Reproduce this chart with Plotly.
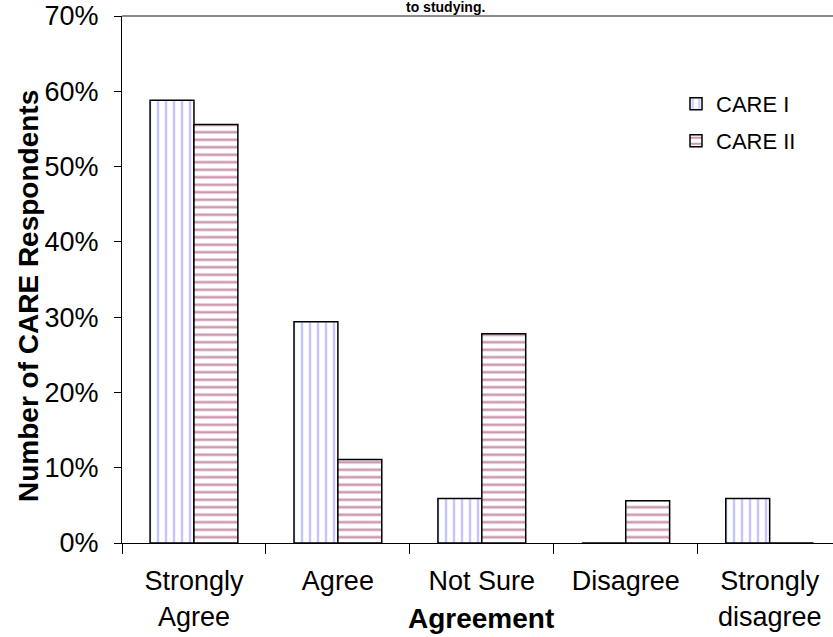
import plotly.graph_objects as go

# Survey responses by agreement level
categories = ["Strongly<br>Agree", "Agree", "Not Sure", "Disagree", "Strongly<br>disagree"]
care_1 = [0.588, 0.294, 0.059, 0.0, 0.059]
care_2 = [0.556, 0.111, 0.278, 0.056, 0.0]
series_names = ["CARE I", "CARE II"]

FONT = "Liberation Sans, Arial, sans-serif"
W, H = 833, 637
L, R, T, B = 122, 0, 16, 94
plot_w = W - L - R
plot_h = H - T - B


def px_x(x):
    return (x - L) / plot_w


def px_y(y):
    return 1 - (y - T) / plot_h


fig = go.Figure()
fig.add_trace(go.Bar(
    x=categories, y=care_1, name=series_names[0], legend="legend",
    marker=dict(
        color="white",
        line=dict(color="black", width=1.5),
        pattern=dict(shape="|", fgcolor="#8c8cff", bgcolor="white", size=8, solidity=0.3),
    ),
))
fig.add_trace(go.Bar(
    x=categories, y=care_2, name=series_names[1], legend="legend2",
    marker=dict(
        color="white",
        line=dict(color="black", width=1.5),
        pattern=dict(shape="-", fgcolor="#993366", bgcolor="white", size=7.5, solidity=0.35),
    ),
))

legend_style = dict(
    xanchor="left", yanchor="middle",
    font=dict(family=FONT, size=22, color="black"),
    bgcolor="rgba(0,0,0,0)", itemwidth=30,
)

fig.update_layout(
    width=W, height=H,
    margin=dict(l=L, r=R, t=T, b=B, pad=0),
    paper_bgcolor="white", plot_bgcolor="white",
    barmode="group", bargap=0.39, bargroupgap=0,
    font=dict(family=FONT, color="black", size=27),
    showlegend=True,
    legend=dict(x=px_x(676), y=px_y(104), **legend_style),
    legend2=dict(x=px_x(676), y=px_y(141), **legend_style),
)

fig.update_xaxes(
    type="category", range=[-0.5, 4.44],
    showline=True, linecolor="black", linewidth=1,
    ticks="outside", tickson="boundaries", ticklen=10, tickcolor="black",
    ticklabelstandoff=14,
    tickfont=dict(family=FONT, size=27),
    showgrid=False, zeroline=False,
)
fig.update_yaxes(
    range=[0, 0.7], dtick=0.1, tickformat=".0%",
    showline=True, linecolor="black", linewidth=1,
    ticks="outside", ticklen=7, tickcolor="black", ticklabelstandoff=10,
    tickfont=dict(family=FONT, size=27),
    showgrid=False, zeroline=False,
)

# Frame line along the top of the plotting area
fig.add_shape(type="line", xref="paper", yref="paper", x0=0, x1=1, y0=1, y1=1,
              line=dict(color="#666666", width=1.5))

# Value axis title
fig.add_annotation(
    text="<b>Number of CARE Respondents</b>", xref="paper", yref="paper",
    x=px_x(28), y=px_y(296), textangle=-90,
    xanchor="center", yanchor="middle", showarrow=False,
    font=dict(family=FONT, size=28, color="black"),
)

# Category axis title placed on the second row of category labels
fig.add_annotation(
    text="<b>Agreement</b>", xref="paper", yref="paper",
    x=px_x(481), y=px_y(618),
    xanchor="center", yanchor="middle", showarrow=False,
    font=dict(family=FONT, size=28, color="black"),
)

# Last line of the chart title
fig.add_annotation(
    text="<b>to studying.</b>", xref="paper", yref="paper",
    x=px_x(445), y=px_y(16),
    xanchor="center", yanchor="bottom", showarrow=False, borderpad=0,
    font=dict(family=FONT, size=14, color="black"),
)

fig.write_html("out.html")
